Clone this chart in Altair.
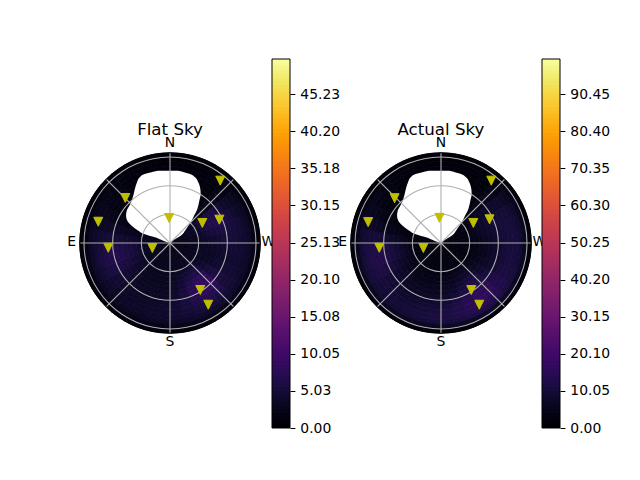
import math
import altair as alt
import pandas as pd

FONT = "DejaVu Sans"
K = 94.5 / 90.3
ZMAX = 94.5

sector_step = 10
ring_edges = [0, 10, 20, 30, 35, 40, 45, 50, 55, 60, 65, 70, 75, 80, 85, 90, 94.5]

flat_rings = [
    [1.8]*36,
    [1.5,1.5,1.5,1.8,2,2.2,2.4,2.4,2.4,2.4,2.4,2.4,2.4,2.4,2.4,2.4,2.4,2.4,2.4,2.4,2.4,2.4,2.4,2.4,2.5,2.5,2.5,2.3,2,1.8,1.5,1.2,1.2,1.2,1.2,1.5],
    [1,1,1,1.5,2.4,3,3.2,3,2.8,2.7,2.6,2.6,2.7,2.9,3,2.9,2.7,2.6,2.5,2.5,2.5,2.5,2.6,2.8,3,3.2,3.2,2.8,2.2,1.6,1.1,1,1,1,1,1],
    [.8,.8,.8,1.2,2.4,3.6,4,3.6,3.2,3,3,3,3.3,3.8,4,3.7,3.2,2.9,2.8,2.7,2.7,2.7,2.9,3.2,3.6,4,4,3.3,2.4,1.5,.9,.8,.8,.8,.8,.8],
    [.8,.8,.8,1.1,2.5,4.4,5,4.2,3.5,3.1,3,3.1,3.7,4.6,5,4.5,3.7,3.1,2.8,2.7,2.7,2.8,3,3.5,4.1,4.6,4.5,3.6,2.5,1.5,.9,.8,.8,.8,.8,.8],
    [.8,.8,.8,1,2.5,5,5.8,4.8,3.8,3.3,3.1,3.3,4.2,5.6,6.2,5.4,4.1,3.3,2.9,2.8,2.8,2.9,3.1,3.7,4.6,5.2,5,3.8,2.6,1.6,.9,.8,.8,.8,.8,.8],
    [.8,.8,.8,1,2.4,5.4,6.3,5.2,4.1,3.5,3.3,3.6,4.8,6.8,7.4,6.3,4.5,3.5,3,2.9,2.9,3,3.3,4,5,5.8,5.5,4.1,2.8,1.7,1,.8,.8,.8,.8,.8],
    [.8,.8,.8,1,2.3,5.6,6.6,5.6,4.5,3.8,3.6,4,5.3,7.8,8.3,7,4.9,3.7,3.2,3,3,3.1,3.5,4.2,5.4,6.3,6,4.5,3,1.8,1,.8,.8,.8,.8,.8],
    [.8,.8,.8,1,2.2,5.2,6.3,5.7,4.8,4.1,3.8,4.3,5.7,8.2,8.6,7.2,5.1,3.9,3.4,3.2,3.1,3.2,3.6,4.4,5.6,6.5,6.3,4.7,3.2,2,1.2,.8,.8,.8,.8,.8],
    [.8,.8,.8,1,2.1,4.7,5.8,5.5,4.9,4.3,4,4.4,5.6,7.6,8,6.8,5.1,4.1,3.6,3.4,3.3,3.3,3.6,4.4,5.6,6.6,6.4,4.8,3.3,2.1,1.3,.9,.8,.8,.8,.8],
    [.8,.8,.8,1,2,4,5,5.1,4.8,4.4,4.1,4.4,5.2,6.6,7,6.1,5,4.2,3.8,3.6,3.4,3.4,3.6,4.3,5.3,6.2,6,4.6,3.3,2.2,1.5,1,.8,.8,.8,.8],
    [.8,.8,.8,1,1.9,3.5,4.3,4.6,4.5,4.3,4.1,4.3,4.8,5.7,6,5.4,4.8,4.2,3.9,3.7,3.5,3.4,3.5,4,4.8,5.4,5.2,4.2,3.2,2.4,1.8,1.2,.9,.8,.8,.8],
    [.8,.8,.8,1,1.8,3,3.7,4,4.1,4,3.9,4,4.4,4.9,5.1,4.8,4.4,4.1,3.8,3.6,3.4,3.4,3.4,3.7,4.2,4.6,4.4,3.7,3,2.5,2,1.4,1,.8,.8,.8],
    [.8,.8,.8,1,1.6,2.5,3,3.3,3.4,3.4,3.4,3.5,3.7,4,4.1,3.9,3.7,3.5,3.3,3.2,3.1,3,3,3.2,3.4,3.6,3.5,3.1,2.7,2.4,2,1.6,1.2,1,.8,.8],
    [.6,.6,.6,.8,1,1.5,1.8,2,2,2,2,2,2.1,2.2,2.2,2.2,2,2,1.9,1.8,1.8,1.8,1.8,1.8,1.9,2,1.9,1.8,1.6,1.5,1.3,1.1,.9,.8,.6,.6],
    [.9]*36,
]
actual_rings = [
    [2]*36,
    [2.2]*36,
    [1.5,1.5,1.5,1.6,2,2.6,3,3,2.8,2.6,2.6,2.6,2.8,3,3,2.9,2.7,2.6,2.6,2.6,2.6,2.6,2.7,2.9,3.1,3.3,3.3,2.9,2.2,1.7,1.5,1.5,1.5,1.5,1.5,1.5],
    [1.2,1.2,1.2,1.4,2.2,3.5,4,3.8,3.4,3.2,3.2,3.3,3.6,4.2,4.4,4,3.6,3.3,3.2,3.1,3.1,3.1,3.2,3.6,4.1,4.6,4.5,3.6,2.4,1.6,1.2,1.2,1.2,1.2,1.2,1.2],
    [1.2,1.2,1.2,1.4,2.6,4.5,5.2,4.8,4.2,3.9,3.9,4.1,4.7,5.6,6,5.4,4.5,4,3.8,3.7,3.7,3.7,3.9,4.5,5.3,6,5.8,4.4,2.9,1.7,1.2,1.2,1.2,1.2,1.2,1.2],
    [1.2,1.2,1.2,1.5,3,5.4,6.4,5.8,5,4.6,4.6,4.9,5.9,7.2,7.8,6.9,5.5,4.8,4.5,4.3,4.3,4.3,4.6,5.4,6.5,7.4,7.2,5.3,3.3,1.9,1.2,1.2,1.2,1.2,1.2,1.2],
    [1.2,1.2,1.2,1.6,3.3,6.2,7.4,6.8,5.9,5.4,5.4,5.9,7.2,9,9.7,8.5,6.7,5.8,5.3,5,5,5,5.4,6.3,7.7,8.9,8.6,6.2,3.8,2.1,1.3,1.2,1.2,1.2,1.2,1.2],
    [1.2,1.2,1.2,1.7,3.6,6.8,8.2,7.8,6.9,6.3,6.3,7,8.6,10.8,11.6,10,7.9,6.8,6.2,5.8,5.7,5.8,6.2,7.3,9,10.4,10,7.1,4.3,2.4,1.5,1.2,1.2,1.2,1.2,1.2],
    [1.2,1.2,1.2,1.8,3.8,7.2,8.9,8.7,7.9,7.3,7.3,8.1,10,12.5,13.4,11.6,9.2,7.9,7.2,6.8,6.6,6.6,7,8.2,10,11.6,11.2,8,4.8,2.8,1.7,1.3,1.2,1.2,1.2,1.2],
    [1.2,1.2,1.2,1.9,4,7.4,9.3,9.4,8.8,8.3,8.4,9.3,11.2,14,15,13,10.5,9,8.2,7.8,7.5,7.4,7.7,8.9,10.8,12.4,12,8.8,5.4,3.2,2,1.4,1.2,1.2,1.2,1.2],
    [1.2,1.2,1.2,2,4,7.4,9.4,9.8,9.5,9.2,9.3,10.2,12.2,14.8,15.8,14,11.6,10.1,9.3,8.8,8.3,8.1,8.3,9.4,11.2,12.8,12.4,9.4,6,3.8,2.4,1.7,1.3,1.2,1.2,1.2],
    [1.2,1.2,1.3,2,3.9,7.2,9.3,9.9,9.9,9.8,10,10.8,12.6,15,15.8,14.4,12.4,11.1,10.3,9.7,9.1,8.7,8.8,9.6,11,12.3,12,9.5,6.6,4.5,3,2.1,1.5,1.3,1.2,1.2],
    [1.3,1.3,1.4,2,3.7,6.7,8.9,9.7,10,10,10.2,10.9,12.3,14,14.6,13.7,12.5,11.5,10.9,10.3,9.7,9.2,9,9.5,10.4,11.2,11,9.2,7,5.2,3.8,2.7,2,1.6,1.4,1.3],
    [1.5,1.5,1.6,2,3.3,5.8,7.6,8.6,9,9.2,9.4,9.9,10.8,11.8,12.2,11.8,11,10.5,10,9.6,9.2,8.8,8.6,8.8,9.2,9.6,9.5,8.3,6.8,5.5,4.4,3.4,2.6,2.1,1.7,1.5],
    [1.2,1.2,1.3,1.6,2.5,4,5,5.5,5.8,5.9,6,6.2,6.6,7,7.2,7,6.7,6.4,6.1,5.9,5.7,5.5,5.4,5.5,5.7,5.9,5.8,5.2,4.4,3.7,3.1,2.5,2,1.7,1.4,1.2],
    [1.6]*36,
]

blob_y = [75.7, 72.2, 68.8, 63.5, 58.3, 51.3, 44.3, 39, 33.8, 28.6, 23.3, 18.1, 12.9, 9.4, 6, 2.4, 0]
blob_left = [-12.6, -26.5, -31.7, -34.5, -36.3, -38, -40.1, -42.6, -45.3, -46, -44.7, -40.1, -33.2, -27.2, -15.7, -7, 0]
blob_right = [8.7, 20.9, 26.2, 29.6, 31.4, 32.1, 30.7, 29.6, 27.9, 25.1, 22.7, 19.2, 15.7, 13.3, 8.7, 2.8, 0]

flat_az = [38.9, 315.2, 358.0, 58.2, 64.7, 286.5, 265.6, 254.2, 147.2, 148.2]
flat_zen = [83.8, 66.4, 26.2, 39.8, 57.1, 78.3, 64.8, 19.2, 58.5, 76.0]
actual_az = [38.9, 314.0, 356.5, 58.2, 64.0, 286.0, 265.6, 254.2, 147.2, 148.2]
actual_zen = [83.8, 67.5, 26.4, 39.8, 56.5, 79.3, 64.8, 19.2, 58.5, 76.0]

ring_values = [30, 60, 90]
spoke_angles = [0, 45, 90, 135, 180, 225, 270, 315]
compass = ["N", "W", "S", "E"]
compass_x = [0.0, 103.0, 0.0, -103.0]
compass_y = [105.0, 1.0, -104.0, 1.0]

flat_ticks = [0.00, 5.03, 10.05, 15.08, 20.10, 25.13, 30.15, 35.18, 40.20, 45.23]
actual_ticks = [0.00, 10.05, 20.10, 30.15, 40.20, 50.25, 60.30, 70.35, 80.40, 90.45]


def polar_panel(rings, az, zen, title, zmax, x_domain, width):
    y_domain = [-185 * K, 184 * K]
    xs = alt.Scale(domain=x_domain, nice=False, zero=False)
    ys = alt.Scale(domain=y_domain, nice=False, zero=False)
    rs = alt.Scale(type="linear", domain=[0, ZMAX], range=[0, 90.3])
    ts = alt.Scale(domain=[0, 360], range=[0, 2 * math.pi])
    cx = alt.X(datum=0, scale=xs, axis=None)
    cy = alt.Y(datum=0, scale=ys, axis=None)
    cscale = alt.Scale(scheme="inferno", domain=[0, zmax])

    cells = pd.DataFrame([
        {"r0": ring_edges[i], "r1": ring_edges[i + 1],
         "t0": j * sector_step, "t1": (j + 1) * sector_step, "v": v}
        for i, row in enumerate(rings) for j, v in enumerate(row)
    ])
    heat = alt.Chart(cells).mark_arc(strokeWidth=0.8).encode(
        x=cx, y=cy,
        theta=alt.Theta("t0:Q", scale=ts, stack=None),
        theta2="t1:Q",
        radius=alt.Radius("r0:Q", scale=rs),
        radius2="r1:Q",
        color=alt.Color("v:Q", scale=cscale, legend=None),
        stroke=alt.Stroke("v:Q", scale=cscale, legend=None),
    )

    blob = alt.Chart(pd.DataFrame({"y": blob_y, "l": blob_left, "r": blob_right})).mark_area(
        color="white", orient="horizontal", interpolate="monotone", opacity=1
    ).encode(
        y=alt.Y("y:Q", scale=ys, axis=None),
        x=alt.X("l:Q", scale=xs, axis=None),
        x2="r:Q",
    )

    ring_df = pd.DataFrame([
        {"r0": r - 0.55, "r1": r + 0.55, "t0": 0, "t1": 360} for r in ring_values
    ])
    rings_l = alt.Chart(ring_df).mark_arc(color="#b0b0b0").encode(
        x=cx, y=cy,
        theta=alt.Theta("t0:Q", scale=ts, stack=None), theta2="t1:Q",
        radius=alt.Radius("r0:Q", scale=rs), radius2="r1:Q",
    )
    spine_df = pd.DataFrame([{"r0": ZMAX - 0.7, "r1": ZMAX + 0.3, "t0": 0, "t1": 360}])
    spine = alt.Chart(spine_df).mark_arc(color="black").encode(
        x=cx, y=cy,
        theta=alt.Theta("t0:Q", scale=ts, stack=None), theta2="t1:Q",
        radius=alt.Radius("r0:Q", scale=rs), radius2="r1:Q",
    )

    spoke_df = pd.DataFrame({"a": spoke_angles})
    spoke_df["x0"] = 0.0
    spoke_df["y0"] = 0.0
    spoke_df["x1"] = [ZMAX * math.sin(math.radians(a)) for a in spoke_angles]
    spoke_df["y1"] = [ZMAX * math.cos(math.radians(a)) for a in spoke_angles]
    spokes = alt.Chart(spoke_df).mark_rule(color="#b0b0b0", strokeWidth=1.1).encode(
        x=alt.X("x0:Q", scale=xs, axis=None),
        y=alt.Y("y0:Q", scale=ys, axis=None),
        x2="x1:Q", y2="y1:Q",
    )

    pts = pd.DataFrame({
        "x": [z * math.sin(math.radians(a)) for a, z in zip(az, zen)],
        "y": [z * math.cos(math.radians(a)) for a, z in zip(az, zen)],
    })
    markers = alt.Chart(pts).mark_point(
        shape="M-1,-1L1,-1L0,1Z", filled=True, color="#bfbf00", size=81, opacity=1,
        stroke="#bfbf00", strokeWidth=1,
    ).encode(
        x=alt.X("x:Q", scale=xs, axis=None),
        y=alt.Y("y:Q", scale=ys, axis=None),
    )

    labels_df = pd.DataFrame({"t": compass, "x": compass_x, "y": compass_y})
    labels = alt.Chart(labels_df).mark_text(
        font=FONT, fontSize=13.9, color="#000000", align="center", baseline="middle"
    ).encode(
        x=alt.X("x:Q", scale=xs, axis=None),
        y=alt.Y("y:Q", scale=ys, axis=None),
        text="t:N",
    )

    title_df = pd.DataFrame({"t": [title], "x": [0.0], "y": [118.0]})
    title_l = alt.Chart(title_df).mark_text(
        font=FONT, fontSize=16.67, color="#000000", align="center", baseline="middle"
    ).encode(
        x=alt.X("x:Q", scale=xs, axis=None),
        y=alt.Y("y:Q", scale=ys, axis=None),
        text="t:N",
    )

    return alt.layer(heat, blob, rings_l, spokes, spine, markers, labels, title_l).properties(
        width=width, height=369, view=alt.ViewConfig(stroke=None)
    ).resolve_scale(x="shared", y="shared")


def colorbar(ticks, zmax):
    n = 100
    lv = [zmax * i / n for i in range(n)]
    df = pd.DataFrame({"a": lv, "b": [min(zmax, v + 1.4 * zmax / n) for v in lv]})
    yscale = alt.Scale(domain=[0, zmax], nice=False, zero=False)
    bar = alt.Chart(df).mark_rect(strokeWidth=0).encode(
        x=alt.value(0), x2=alt.value(18),
        y=alt.Y("a:Q", scale=yscale,
                axis=alt.Axis(orient="right", values=ticks, format=".2f", title=None, grid=False,
                              domain=False, tickColor="black", tickSize=4.9, tickWidth=1,
                              labelFont=FONT, labelFontSize=13.9, labelColor="black",
                              labelPadding=4.9, labelOverlap=False, labelFlush=False)),
        y2="b:Q",
        color=alt.Color("a:Q", scale=alt.Scale(scheme="inferno", domain=[0, zmax]), legend=None),
    )
    frame = alt.Chart(pd.DataFrame({"a": [0], "b": [zmax]})).mark_rect(
        fillOpacity=0, stroke="black", strokeWidth=1
    ).encode(
        x=alt.value(0), x2=alt.value(18),
        y=alt.Y("a:Q", scale=yscale), y2="b:Q",
    )
    return alt.layer(bar, frame).properties(width=18, height=369, view=alt.ViewConfig(stroke=None))


p1 = polar_panel(flat_rings, flat_az, flat_zen, "Flat Sky", 50, [-108 * K, 102 * K], 210)
c1 = colorbar(flat_ticks, 50)
p2 = polar_panel(actual_rings, actual_az, actual_zen, "Actual Sky", 100, [-151 * K, 101 * K], 252)
c2 = colorbar(actual_ticks, 100)

chart = alt.hconcat(p1, c1, p2, c2, spacing=0, bounds="flush").resolve_scale(
    color="independent", stroke="independent"
).properties(
    padding={"left": 54, "top": 50, "right": 0, "bottom": 0},
    background="white",
)
chart.save("out.html", embed_options={"renderer": "svg", "actions": False})
